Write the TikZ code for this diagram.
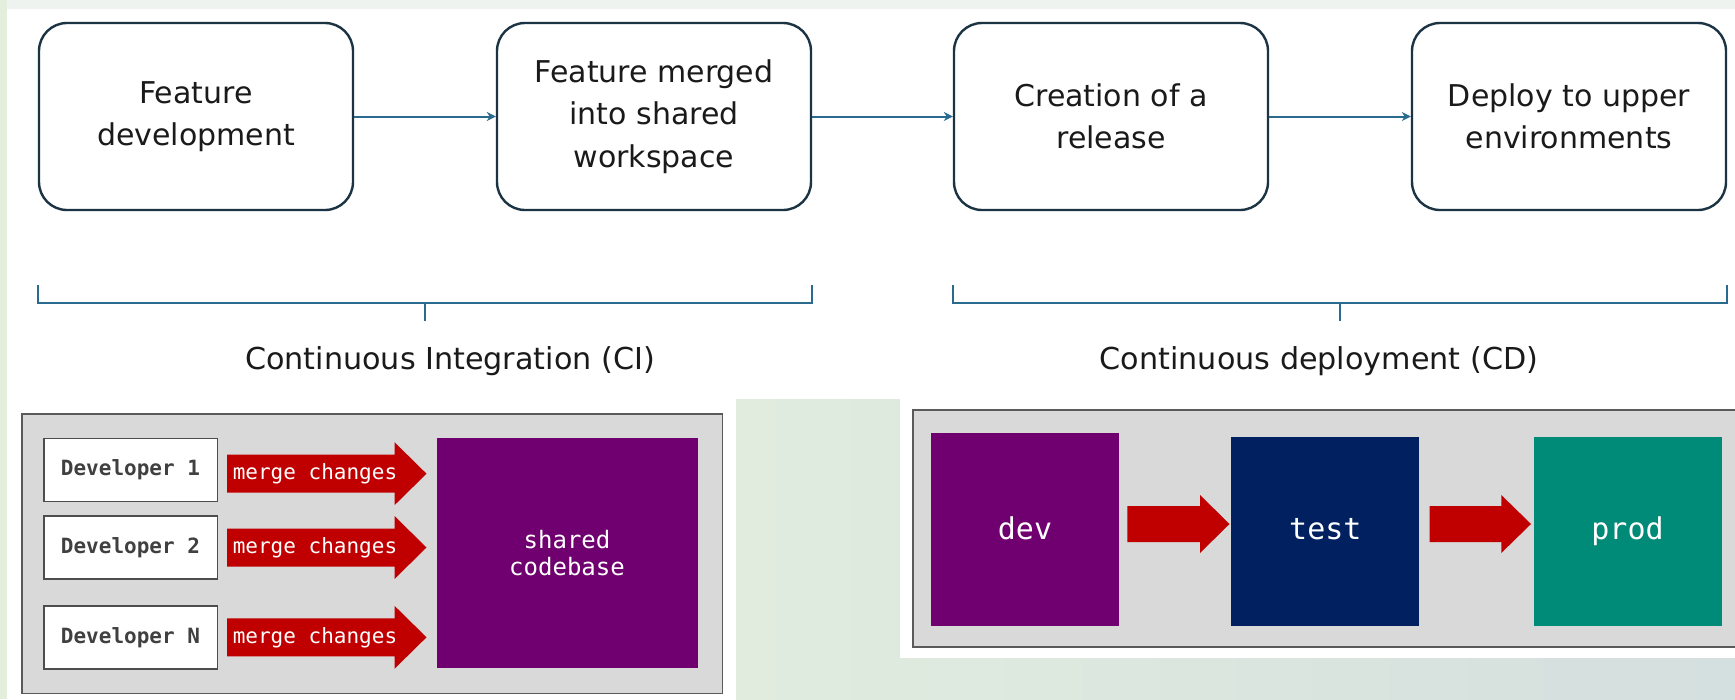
\documentclass[tikz,border=0pt]{standalone}
\usepackage{fontspec}
\setmainfont{DejaVu Sans}
\setmonofont{DejaVu Sans Mono}
\usetikzlibrary{arrows.meta,calc}

\definecolor{boxline}{HTML}{1B3342}
\definecolor{flowc}{HTML}{2A6A8E}
\definecolor{textdark}{HTML}{1A1A1A}
\definecolor{panelfill}{HTML}{D9D9D9}
\definecolor{paneldraw}{HTML}{5A5A5A}
\definecolor{devdraw}{HTML}{4D4D4D}
\definecolor{devtext}{HTML}{404040}
\definecolor{redarrow}{HTML}{C00000}
\definecolor{envpurple}{HTML}{70006F}
\definecolor{envnavy}{HTML}{002060}
\definecolor{envteal}{HTML}{008A78}
\definecolor{topstrip}{HTML}{EEF3F0}
\definecolor{sidestrip}{HTML}{E3EEDD}
\definecolor{washleft}{HTML}{E1ECDF}
\definecolor{washright}{HTML}{D4DFDF}

% broad red arrow: x start, x head base, x tip, y centre, half shaft, half head
\newcommand{\fatarrow}[6]{%
  \fill[redarrow] (#1,#4-#5) -- (#2,#4-#5) -- (#2,#4-#6) -- (#3,#4)
    -- (#2,#4+#6) -- (#2,#4+#5) -- (#1,#4+#5) -- cycle;}

\tikzset{
  stepbox/.style={draw=boxline, line width=2.4pt, rounded corners=28pt,
    fill=white, minimum width=314pt, minimum height=187pt, inner sep=0pt,
    align=center, text=textdark, font=\fontsize{30}{42.5}\selectfont,
    execute at begin node={\rule{0pt}{29pt}}},
  flow/.style={draw=flowc, line width=2pt, -{Stealth[length=9pt,width=9pt]}},
  brace/.style={draw=flowc, line width=2pt},
  phase/.style={text=textdark, anchor=base, inner sep=0pt,
    font=\fontsize{30.2}{34}\selectfont},
  panel/.style={fill=panelfill, draw=paneldraw, line width=1.6pt},
  devbox/.style={draw=devdraw, line width=1.5pt, fill=white,
    minimum width=173.5pt, minimum height=63pt, inner sep=0pt,
    text=devtext, font=\ttfamily\bfseries\fontsize{21}{24}\selectfont},
  mergetxt/.style={text=white, inner sep=0pt,
    font=\ttfamily\fontsize{21}{24}\selectfont},
  codebase/.style={fill=envpurple, minimum width=261pt, minimum height=230pt,
    inner sep=0pt, align=center, text=white,
    font=\ttfamily\fontsize{24}{27}\selectfont},
  envbox/.style={minimum width=188pt, inner sep=0pt},
  envtxt/.style={text=white, anchor=base, inner sep=0pt,
    font=\ttfamily\fontsize{30}{32}\selectfont}
}

\begin{document}
\begin{tikzpicture}[x=1pt,y=-1pt]
\useasboundingbox (0,0) rectangle (1735,699);

% page backdrop
\fill[white] (0,0) rectangle (1735,699);
\fill[topstrip] (0,0) rectangle (1735,9);
\fill[sidestrip] (0,0) rectangle (7,699);
\shade[left color=washleft, right color=washright] (736,399) rectangle (1735,699);
\fill[white] (900,399) rectangle (1735,658);

% process steps
\node[stepbox] (b1) at (196,116.5) {Feature\\development};
\node[stepbox] (b2) at (654,116.5) {Feature merged\\into shared\\workspace};
\node[stepbox] (b3) at (1111,116.5) {Creation of a\\release};
\node[stepbox] (b4) at (1569,116.5) {Deploy to upper\\environments};

\draw[flow] (b1) -- (b2);
\draw[flow] (b2) -- (b3);
\draw[flow] (b3) -- (b4);

% brackets grouping the steps
\coordinate (brtop) at (0,285);
\coordinate (brbot) at (0,303);
\coordinate (brtick) at (0,321);
\coordinate (cimid) at ($(b1.south west)!0.5!(b2.south east)$);
\coordinate (cdmid) at ($(b3.south west)!0.5!(b4.south east)$);

\draw[brace] (b1.south west |- brtop) -- (b1.south west |- brbot)
  -- (b2.south east |- brbot) -- (b2.south east |- brtop);
\draw[brace] (cimid |- brbot) -- (cimid |- brtick);
\draw[brace] (b3.south west |- brtop) -- (b3.south west |- brbot)
  -- (b4.south east |- brbot) -- (b4.south east |- brtop);
\draw[brace] (cdmid |- brbot) -- (cdmid |- brtick);

\node[phase] (cilbl) at (450,369) {Continuous Integration (CI)};
\node[phase] (cdlbl) at (1319,369) {Continuous deployment (CD)};

% CI panel: developers merging into the shared codebase
\draw[panel] (22,414) rectangle (722.5,693.5);
\node[devbox] (d1) at (130.5,470) {Developer 1};
\node[devbox] (d2) at (130.5,547.5) {Developer 2};
\node[devbox] (dn) at (130.5,637.3) {Developer N};

\fatarrow{227}{394.5}{426.5}{473.7}{19}{31.5}
\fatarrow{227}{394.5}{426.5}{547.5}{19}{31.5}
\fatarrow{227}{394.5}{426.5}{637.3}{19}{31.5}
\node[mergetxt] (m1) at (315,473.7) {merge changes};
\node[mergetxt] (m2) at (315,547.5) {merge changes};
\node[mergetxt] (m3) at (315,637.3) {merge changes};

\node[codebase] (code) at (567,553) {shared\\codebase};

% CD panel: promotion through the environments
\draw[panel] (913,410) rectangle (1745,647);
\node[envbox, fill=envpurple, minimum height=193pt] (dev) at (1025,529.5) {};
\node[envbox, fill=envnavy, minimum height=189.5pt] (test) at (1325.3,531.3) {};
\node[envbox, fill=envteal, minimum height=189.5pt] (prod) at (1627.5,531.3) {};

\fatarrow{1127.3}{1200}{1229.5}{524}{18}{29}
\fatarrow{1429.5}{1501.3}{1531}{524}{18}{29}

\coordinate (envbase) at (0,539.5);
\node[envtxt] (devlbl) at (dev.center |- envbase) {dev};
\node[envtxt] (testlbl) at (test.center |- envbase) {test};
\node[envtxt] (prodlbl) at (prod.center |- envbase) {prod};
\end{tikzpicture}
\end{document}
